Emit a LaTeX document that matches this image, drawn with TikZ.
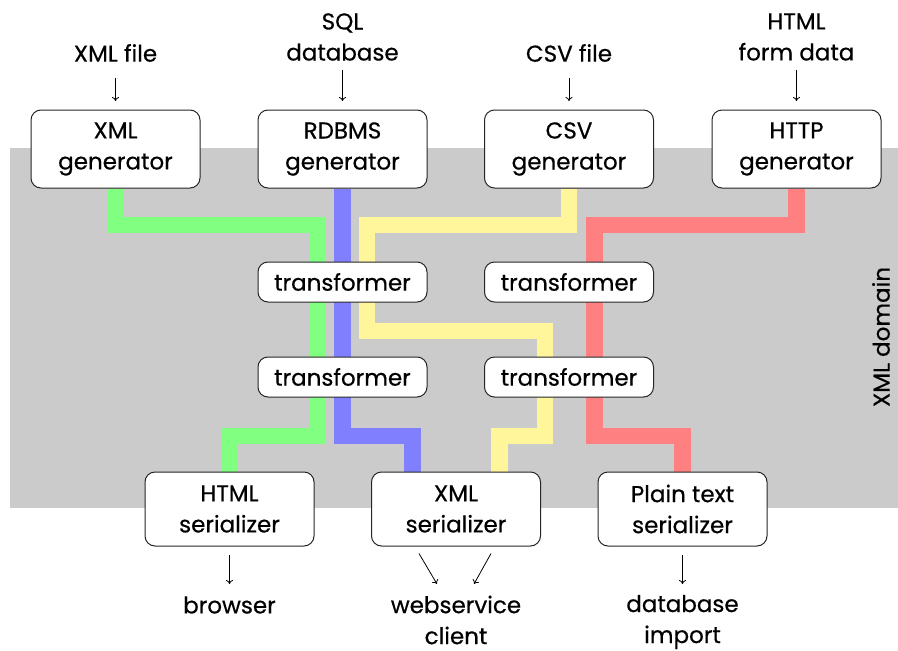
\documentclass[tikz,border=0pt]{standalone}
\usepackage{fontspec}
\setmainfont{Poppins}[FakeBold=0.5]
\usetikzlibrary{arrows.meta,backgrounds}
\definecolor{bggray}{RGB}{203,203,203}
\definecolor{pgreen}{RGB}{128,255,128}
\definecolor{pblue}{RGB}{128,128,255}
\definecolor{pyellow}{RGB}{255,245,155}
\definecolor{pred}{RGB}{255,128,128}
\tikzset{
  box/.style={draw=black!85, line width=1pt, fill=white, rounded corners=10pt, align=center, inner sep=0pt},
  genbox/.style={box, minimum width=169pt, minimum height=78pt},
  trbox/.style={box, minimum width=169pt, minimum height=40pt},
  serbox/.style={box, minimum width=169pt, minimum height=74pt},
  lbl/.style={align=center, inner sep=0pt},
  pipe/.style={line width=16.5pt, line cap=butt, line join=miter},
  arr/.style={-{To[length=4pt,width=7pt]}, line width=0.8pt},
  txt/.style={font=\fontsize{23}{31}\selectfont}
}
\begin{document}
\begin{tikzpicture}[x=1pt,y=-1pt, every node/.style={txt}]
\useasboundingbox (0,0) rectangle (898,651);

% nodes
\node[genbox] (xmlgen) at (115.5,149) {XML\\generator};
\node[genbox] (rdbgen) at (342.5,149) {RDBMS\\generator};
\node[genbox] (csvgen) at (569,149) {CSV\\generator};
\node[genbox] (httpgen) at (796.5,149) {HTTP\\generator};

\node[trbox] (t1l) at (342.5,282) {transformer};
\node[trbox] (t1r) at (569,282) {transformer};
\node[trbox] (t2l) at (342.5,377) {transformer};
\node[trbox] (t2r) at (569,377) {transformer};

\node[serbox] (htmlser) at (229.5,509) {HTML\\serializer};
\node[serbox] (xmlser) at (456,509) {XML\\serializer};
\node[serbox] (txtser) at (682.5,509) {Plain text\\serializer};

% input labels
\node[lbl] (xmlfile) at (115.5,53) {XML file};
\node[lbl] (sqldb) at (342.5,37) {SQL\\database};
\node[lbl] (csvfile) at (569,53) {CSV file};
\node[lbl] (htmlform) at (796.5,37) {HTML\\form data};

% output labels
\node[lbl] (browser) at (229.5,605) {browser};
\node[lbl] (wsclient) at (456,620) {webservice\\client};
\node[lbl] (dbimport) at (682.5,622) {database\\import};

\node[lbl, rotate=90] (domain) at (881,337) {XML domain};

% arrows
\draw[arr] (xmlfile.south |- 0,78) -- (xmlgen.north |- 0,101);
\draw[arr] (rdbgen.north |- 0,70) -- (rdbgen.north |- 0,101);
\draw[arr] (csvfile.south |- 0,78) -- (csvgen.north |- 0,101);
\draw[arr] (httpgen.north |- 0,70) -- (httpgen.north |- 0,101);

\draw[arr] (htmlser.south |- 0,555) -- (browser.north |- 0,584);
\draw[arr] (txtser.south |- 0,555) -- (dbimport.north |- 0,584);
\draw[arr] (419,553 |- xmlser.south) ++(0,7) -- (437,584);
\draw[arr] (491,553 |- xmlser.south) ++(0,7) -- (474,584);

% background and pipes
\begin{scope}[on background layer]
\fill[bggray] (10,148) rectangle (898,508);
\draw[pipe, pgreen] (xmlgen.south) -- (115.5,225) -- (318,225) -- (318,436) -- (229.5,436) -- (htmlser.north);
\draw[pipe, pblue] (rdbgen.south) -- (342.5,436) -- (412.5,436) -- (412.5,0 |- xmlser.north);
\draw[pipe, pyellow] (csvgen.south) -- (569,225) -- (367,225) -- (367,331) -- (545,331) -- (545,436) -- (499.5,436) -- (499.5,0 |- xmlser.north);
\draw[pipe, pred] (httpgen.south) -- (796.5,225) -- (594.5,225) -- (594.5,436) -- (682.5,436) -- (txtser.north);
\end{scope}
\end{tikzpicture}
\end{document}
